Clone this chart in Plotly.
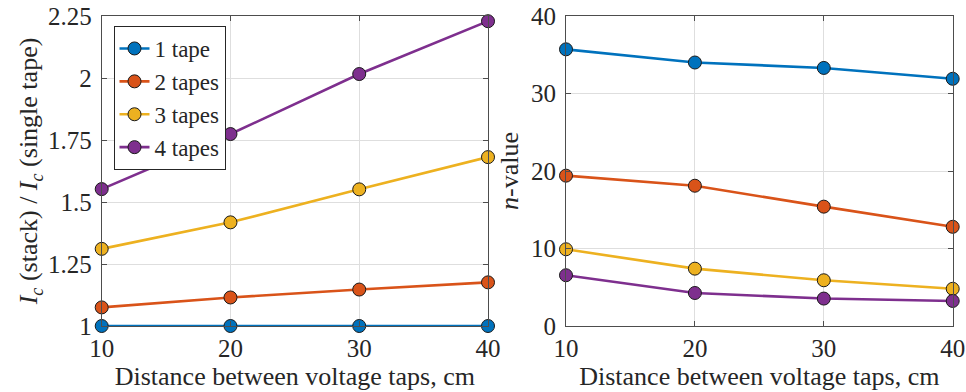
import plotly.graph_objects as go

distance = [10, 20, 30, 40]
series_names = ["1 tape", "2 tapes", "3 tapes", "4 tapes"]
colors = ["#0072BD", "#D95319", "#EDB120", "#7E2F8E"]

ic_ratio_1 = [1.0, 1.0, 1.0, 1.0]
ic_ratio_2 = [1.075, 1.115, 1.147, 1.176]
ic_ratio_3 = [1.311, 1.418, 1.551, 1.681]
ic_ratio_4 = [1.552, 1.774, 2.016, 2.229]

nval_1 = [35.7, 34.0, 33.3, 31.9]
nval_2 = [19.4, 18.1, 15.4, 12.8]
nval_3 = [9.9, 7.4, 5.9, 4.8]
nval_4 = [6.55, 4.26, 3.54, 3.23]

left_yticks = [1, 1.25, 1.5, 1.75, 2, 2.25]
left_yticklabels = ["1", "1.25", "1.5", "1.75", "2", "2.25"]
right_yticks = [0, 10, 20, 30, 40]
xticks = [10, 20, 30, 40]

FONT = "Liberation Serif"
TXT = "#262626"
FS = 25
FT = 26
FL = 23

fig = go.Figure()
left_data = [ic_ratio_1, ic_ratio_2, ic_ratio_3, ic_ratio_4]
right_data = [nval_1, nval_2, nval_3, nval_4]
for name, c, yl, yr in zip(series_names, colors, left_data, right_data):
    fig.add_trace(go.Scatter(x=distance, y=yl, name=name, mode="lines+markers",
                             line=dict(color=c, width=2.6),
                             marker=dict(color=c, size=13, line=dict(color="#1a1a1a", width=1)),
                             cliponaxis=False, xaxis="x", yaxis="y", legendgroup=name))
    fig.add_trace(go.Scatter(x=distance, y=yr, name=name, mode="lines+markers",
                             line=dict(color=c, width=2.6),
                             marker=dict(color=c, size=13, line=dict(color="#1a1a1a", width=1)),
                             cliponaxis=False, xaxis="x2", yaxis="y2", showlegend=False, legendgroup=name))

axcommon = dict(showline=True, mirror="ticks", linecolor="#4d4d4d", linewidth=1,
                showgrid=True, gridcolor="#dedede", gridwidth=1,
                ticks="inside", ticklen=5, tickcolor="#4d4d4d",
                tickfont=dict(family=FONT, size=FS, color=TXT), zeroline=False, automargin=False)

ydom = [1 - 326 / 392, 1 - 16 / 392]
fig.update_layout(
    width=966, height=392,
    margin=dict(l=0, r=0, t=0, b=0),
    paper_bgcolor="white", plot_bgcolor="white",
    font=dict(family=FONT, size=FS, color=TXT),
    xaxis=dict(domain=[101.7 / 966, 488 / 966], range=[10, 40], tickvals=xticks,
               title=dict(text="Distance between voltage taps, cm", font=dict(family=FONT, size=FT, color=TXT), standoff=2),
               anchor="y", **axcommon),
    yaxis=dict(domain=ydom, range=[1, 2.25], tickvals=left_yticks, ticktext=left_yticklabels,
               ticklabelstandoff=4,
               title=dict(text="<i>I<sub>c</sub></i> (stack) / <i>I<sub>c</sub></i> (single tape)",
                          font=dict(family=FONT, size=FT, color=TXT), standoff=2),
               anchor="x", **axcommon),
    xaxis2=dict(domain=[566 / 966, 952.7 / 966], range=[10, 40], tickvals=xticks,
                title=dict(text="Distance between voltage taps, cm", font=dict(family=FONT, size=FT, color=TXT), standoff=2),
                anchor="y2", **axcommon),
    yaxis2=dict(domain=ydom, range=[0, 40], tickvals=right_yticks, ticklabelstandoff=4,
                title=dict(text="<i>n</i>-value", font=dict(family=FONT, size=FT, color=TXT), standoff=4),
                anchor="x2", **axcommon),
    legend=dict(x=113.5 / 966, y=1 - 26 / 392, xanchor="left", yanchor="top",
                bordercolor="#262626", borderwidth=1, bgcolor="white", itemwidth=30,
                font=dict(family=FONT, size=FL, color=TXT), tracegroupgap=0),
    showlegend=True,
)

fig.write_html("out.html", config={"displayModeBar": False},
               post_script="document.body.style.margin='0';document.body.style.overflow='hidden';")
